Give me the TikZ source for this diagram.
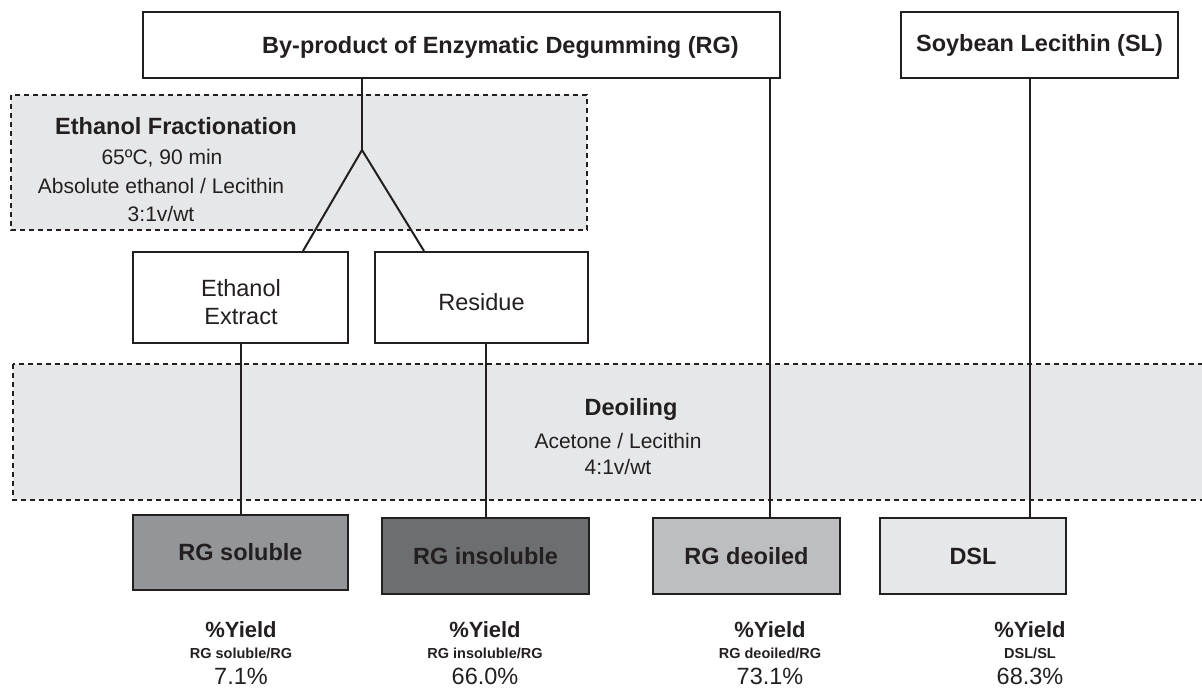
\documentclass[tikz,border=0pt]{standalone}
\usepackage{fontspec}
\setmainfont{Liberation Sans}
\definecolor{panel}{HTML}{E6E7E8}
\definecolor{solc}{HTML}{939598}
\definecolor{insc}{HTML}{6D6E70}
\definecolor{deoc}{HTML}{BCBEC0}
\definecolor{ink}{HTML}{231F20}
\begin{document}
\begin{tikzpicture}[x=1pt,y=-1pt,
  box/.style={draw=ink,line width=2pt,inner sep=0pt,align=center,text=ink},
  panelbox/.style={draw=ink,fill=panel,line width=2pt,dash pattern=on 5pt off 4pt},
  link/.style={draw=ink,line width=2pt},
  ttl/.style={font=\fontsize{23.5}{26}\selectfont\bfseries,text=ink},
  line/.style={anchor=base,inner sep=0pt,text=ink},
  ptitle/.style={line,font=\fontsize{23.5}{26}\selectfont\bfseries},
  pbody/.style={line,font=\fontsize{21}{26}\selectfont},
  mbody/.style={line,font=\fontsize{23.5}{26}\selectfont},
  ytitle/.style={line,font=\fontsize{22}{26}\selectfont\bfseries},
  ysub/.style={line,font=\fontsize{14.5}{17}\selectfont\bfseries},
  yval/.style={line,font=\fontsize{23.5}{26}\selectfont}]
\useasboundingbox (0,0) rectangle (1202,688);
% panels
\draw[panelbox] (11,95) rectangle (587,230);
\draw[panelbox] (13,364) rectangle (1210,500);
\node[ptitle] (ef1) at (176,134) {Ethanol Fractionation};
\node[pbody] (ef2) at (162,164) {65ºC, 90 min};
\node[pbody] (ef3) at (161,193) {Absolute ethanol / Lecithin};
\node[pbody] (ef4) at (161,221) {3:1v/wt};
\node[ptitle] (de1) at (631,415) {Deoiling};
\node[pbody] (de2) at (618,448) {Acetone / Lecithin};
\node[pbody] (de3) at (618,474) {4:1v/wt};
% top boxes
\node[box,minimum width=637pt,minimum height=66pt] (rg) at (461.5,45) {};
\node[ttl,anchor=base west,inner sep=0pt] (rgt) at (262,53) {By-product of Enzymatic Degumming (RG)};
\node[box,ttl,minimum width=277pt,minimum height=66pt] (sl) at (1039.5,45) {Soybean Lecithin (SL)};
% middle boxes
\node[box,fill=white,minimum width=215pt,minimum height=91pt] (ee) at (240.5,297.5) {};
\node[mbody] (ee1) at (241,296) {Ethanol};
\node[mbody] (ee2) at (241,324) {Extract};
\node[box,fill=white,minimum width=213pt,minimum height=91pt] (res) at (481.5,297.5) {};
\node[mbody] (res1) at (481.5,310) {Residue};
% bottom boxes
\node[box,ttl,fill=solc,minimum width=215pt,minimum height=75pt] (sol) at (240.5,552.5) {RG soluble};
\node[box,ttl,fill=insc,minimum width=207pt,minimum height=76pt] (ins) at (485.5,556) {RG insoluble};
\node[box,ttl,fill=deoc,minimum width=187pt,minimum height=76pt] (deoil) at (746.5,556) {RG deoiled};
\node[box,ttl,fill=panel,minimum width=186pt,minimum height=76pt] (dsl) at (973,556) {DSL};
% connectors
\coordinate (apex) at (362,150);
\draw[link] (rg.south -| apex) -- (apex);
\draw[link] (apex) -- (ee.north -| 303,0);
\draw[link] (apex) -- (res.north -| 424,0);
\draw[link] (ee.south) -- (sol.north);
\draw[link] (res.south -| ins.north) -- (ins.north);
\draw[link] (rg.south -| 770,0) -- (deoil.north -| 770,0);
\draw[link] (sl.south -| 1030,0) -- (dsl.north -| 1030,0);
% yields
\node[ytitle] (y1a) at (241,637) {\%Yield};
\node[ysub] (y1b) at (241,658) {RG soluble/RG};
\node[yval] (y1c) at (241,684) {7.1\%};
\node[ytitle] (y2a) at (485,637) {\%Yield};
\node[ysub] (y2b) at (485,658) {RG insoluble/RG};
\node[yval] (y2c) at (485,684) {66.0\%};
\node[ytitle] (y3a) at (770,637) {\%Yield};
\node[ysub] (y3b) at (770,658) {RG deoiled/RG};
\node[yval] (y3c) at (770,684) {73.1\%};
\node[ytitle] (y4a) at (1030,637) {\%Yield};
\node[ysub] (y4b) at (1030,658) {DSL/SL};
\node[yval] (y4c) at (1030,684) {68.3\%};
\end{tikzpicture}
\end{document}
